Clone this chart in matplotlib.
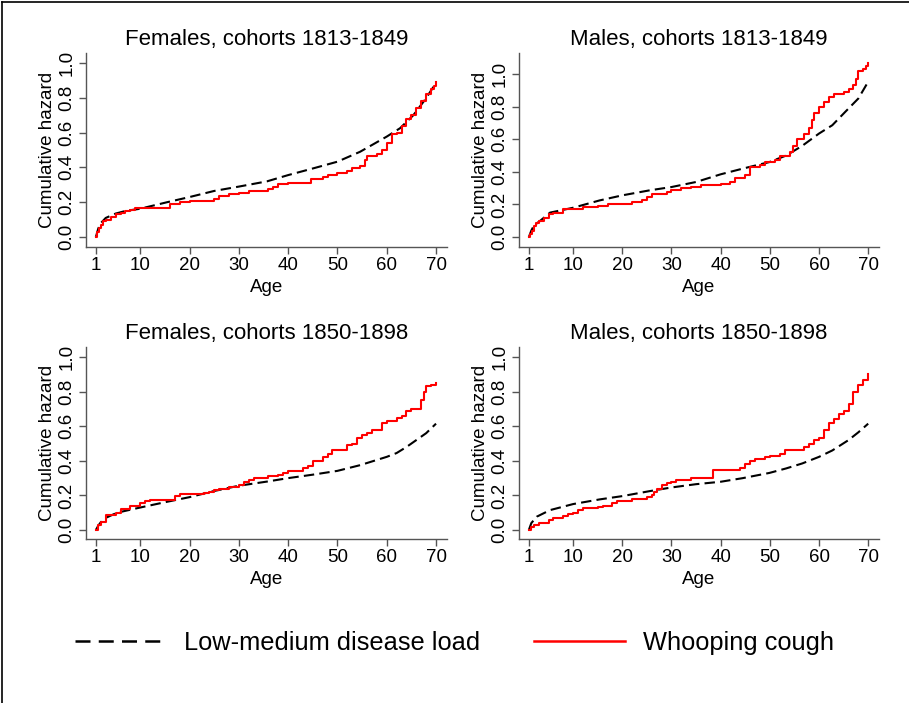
import matplotlib
matplotlib.use("Agg")
import matplotlib.pyplot as plt
from matplotlib.lines import Line2D

plt.rcParams["font.family"] = ["Liberation Sans", "DejaVu Sans"]

# Females, cohorts 1813-1849
f1_low_age = [1, 1.5, 2, 3, 5, 7, 10, 15.4, 20, 25, 30, 35.7, 40, 45, 50, 54.6, 60, 62.7, 65.4, 67.8, 70]
f1_low_val = [0, 0.05, 0.08, 0.11, 0.135, 0.15, 0.163, 0.2, 0.23, 0.265, 0.29, 0.32, 0.356, 0.394, 0.433, 0.49, 0.577, 0.625, 0.70, 0.79, 0.885]
f1_wc_age = [1, 1.3, 1.6, 2, 2.5, 3, 4, 5, 6, 7, 8, 9, 16, 18, 20, 23, 25, 26, 28, 30, 32, 36, 37, 38, 40, 44.7,
             47, 48, 50, 52, 53, 54.5, 55.5, 56, 58, 59, 60, 61, 62, 63, 64, 65, 66, 67, 68, 69, 69.6, 70]
f1_wc_val = [0, 0.03, 0.05, 0.07, 0.09, 0.10, 0.115, 0.13, 0.14, 0.15, 0.155, 0.165, 0.19, 0.20, 0.205, 0.21, 0.22,
             0.235, 0.245, 0.255, 0.265, 0.275, 0.29, 0.305, 0.31, 0.335, 0.345, 0.355, 0.37, 0.38, 0.395, 0.41,
             0.44, 0.465, 0.475, 0.50, 0.54, 0.59, 0.60, 0.64, 0.68, 0.70, 0.74, 0.78, 0.82, 0.85, 0.87, 0.89]

# Males, cohorts 1813-1849
m1_low_age = [1, 1.5, 2, 3.3, 5.3, 10, 15.4, 20, 25.6, 30, 35, 40, 44.5, 49.9, 53.3, 56.6, 60, 62.7, 65.4, 68, 70]
m1_low_val = [0, 0.04, 0.07, 0.10, 0.15, 0.18, 0.225, 0.256, 0.287, 0.307, 0.338, 0.385, 0.42, 0.46, 0.50, 0.56, 0.635, 0.686, 0.77, 0.85, 0.953]
m1_wc_age = [1, 1.3, 1.6, 2, 2.5, 3, 4, 5, 6, 7, 8, 12, 15, 17, 21, 22, 24, 25, 26, 29, 30, 32, 34, 36, 40, 42, 43,
             45, 46, 48, 49, 51, 52, 54, 54.8, 55.5, 57, 58, 58.6, 59, 60, 61, 62, 63, 65, 66, 67, 67.5, 68, 69, 69.6, 70]
m1_wc_val = [0, 0.02, 0.04, 0.07, 0.085, 0.10, 0.12, 0.14, 0.145, 0.15, 0.17, 0.185, 0.19, 0.20, 0.205, 0.215, 0.225,
             0.245, 0.265, 0.275, 0.29, 0.30, 0.31, 0.32, 0.325, 0.34, 0.36, 0.38, 0.43, 0.44, 0.46, 0.47, 0.50, 0.52,
             0.56, 0.60, 0.63, 0.67, 0.72, 0.76, 0.80, 0.83, 0.86, 0.88, 0.89, 0.91, 0.93, 0.97, 1.02, 1.03, 1.05, 1.07]

# Females, cohorts 1850-1898
f2_low_age = [1, 1.5, 2, 3, 5.3, 10, 15.4, 20, 24.9, 30, 35.7, 40, 45, 50, 54.6, 60, 62, 64, 66, 68, 70]
f2_low_val = [0, 0.025, 0.045, 0.07, 0.10, 0.13, 0.163, 0.19, 0.225, 0.256, 0.28, 0.30, 0.32, 0.342, 0.375, 0.423, 0.445, 0.48, 0.52, 0.56, 0.615]
f2_wc_age = [1, 1.5, 2, 3, 5, 6, 8, 10, 11, 12, 17, 18, 23, 24, 25, 26, 28, 30, 31, 32, 33, 36, 38, 39, 40, 43, 44,
             45, 47, 48, 49, 52, 53, 54, 55, 56, 57, 59, 60, 62, 63, 64, 65, 67, 67.5, 68, 69, 70]
f2_wc_val = [0, 0.03, 0.045, 0.085, 0.10, 0.12, 0.14, 0.155, 0.165, 0.175, 0.195, 0.21, 0.215, 0.22, 0.23, 0.24,
             0.25, 0.26, 0.275, 0.29, 0.30, 0.31, 0.32, 0.33, 0.34, 0.36, 0.37, 0.40, 0.42, 0.44, 0.46, 0.49, 0.50,
             0.53, 0.55, 0.56, 0.58, 0.62, 0.63, 0.65, 0.66, 0.69, 0.70, 0.75, 0.80, 0.83, 0.84, 0.85]

# Males, cohorts 1850-1898
m2_low_age = [1, 1.5, 2.6, 5.3, 10, 15.4, 20, 25.6, 30, 35, 40, 44.5, 49.9, 53.3, 56.6, 60, 62.7, 66, 68, 70]
m2_low_val = [0, 0.04, 0.077, 0.115, 0.15, 0.177, 0.196, 0.225, 0.246, 0.265, 0.279, 0.30, 0.33, 0.356, 0.385, 0.423, 0.46, 0.52, 0.565, 0.615]
m2_wc_age = [1, 1.5, 2, 3, 5, 6, 8, 9, 10, 11, 12, 15, 16, 18, 19, 21, 22, 25, 26, 26.5, 27, 28, 29, 30, 31, 34,
             38.5, 44, 45, 46, 47, 49, 50, 52, 53, 54, 57, 58, 59, 60, 61, 62, 63, 64, 65, 66, 67, 68, 69, 70]
m2_wc_val = [0, 0.02, 0.03, 0.04, 0.06, 0.07, 0.08, 0.09, 0.10, 0.115, 0.125, 0.135, 0.14, 0.155, 0.165, 0.165,
             0.18, 0.19, 0.20, 0.22, 0.24, 0.26, 0.27, 0.28, 0.29, 0.30, 0.345, 0.36, 0.38, 0.40, 0.41, 0.425, 0.43,
             0.44, 0.46, 0.46, 0.48, 0.50, 0.52, 0.53, 0.58, 0.62, 0.64, 0.67, 0.69, 0.73, 0.80, 0.84, 0.87, 0.90]

titles = ["Females, cohorts 1813-1849", "Males, cohorts 1813-1849",
          "Females, cohorts 1850-1898", "Males, cohorts 1850-1898"]
x_ticks = [1, 10, 20, 30, 40, 50, 60, 70]
y_ticks = [0.0, 0.2, 0.4, 0.6, 0.8, 1.0]

panels = [
    (f1_low_age, f1_low_val, f1_wc_age, f1_wc_val),
    (m1_low_age, m1_low_val, m1_wc_age, m1_wc_val),
    (f2_low_age, f2_low_val, f2_wc_age, f2_wc_val),
    (m2_low_age, m2_low_val, m2_wc_age, m2_wc_val),
]

fig = plt.figure(figsize=(9.09, 7.03), dpi=100)

# axes boxes [left, bottom, width, height]
boxes = [
    [0.0946, 0.6486, 0.397, 0.276],
    [0.571, 0.6486, 0.396, 0.276],
    [0.0946, 0.2333, 0.397, 0.273],
    [0.571, 0.2333, 0.396, 0.273],
]
ylims = [(-0.057, 1.057), (-0.061, 1.129), (-0.052, 1.058), (-0.052, 1.058)]

grey = "#555555"
for i, (la, lv, wa, wv) in enumerate(panels):
    ax = fig.add_axes(boxes[i])
    ax.plot(la, lv, color="black", lw=1.5, dashes=(5, 2.5))
    ax.plot(wa, wv, color="red", lw=1.5, drawstyle="steps-post")
    ax.set_xlim(-1.0, 72.2)
    ax.set_ylim(*ylims[i])
    ax.set_xticks(x_ticks)
    ax.set_yticks(y_ticks)
    ax.set_yticklabels(["%.1f" % v for v in y_ticks], rotation=90, va="center")
    ax.spines["top"].set_visible(False)
    ax.spines["right"].set_visible(False)
    for s in ("left", "bottom"):
        ax.spines[s].set_color(grey)
        ax.spines[s].set_linewidth(1.0)
    ax.tick_params(colors=grey, labelcolor="black", labelsize=13.5, length=5, width=1.0, pad=2.5)
    ax.set_xlabel("Age", fontsize=13.5, labelpad=3)
    ax.set_ylabel("Cumulative hazard", fontsize=13.5, labelpad=2)
    ax.set_title(titles[i], fontsize=16, pad=6)

# legend
handles = [Line2D([], [], color="black", lw=1.8, dashes=(6, 3.3)),
           Line2D([], [], color="red", lw=1.8)]
fig.legend(handles, ["Low-medium disease load", "Whooping cough"], loc="center",
           bbox_to_anchor=(0.5, 0.085), ncol=2, frameon=False, fontsize=18.3,
           handlelength=3.6, columnspacing=2.1, handletextpad=0.7)

# partial frame on left and top
fig.add_artist(Line2D([0.0025, 0.0025], [0, 0.997], color="black", lw=1.2, transform=fig.transFigure))
fig.add_artist(Line2D([0.0025, 1.0], [0.997, 0.997], color="black", lw=1.2, transform=fig.transFigure))

fig.savefig("out.png", dpi=100)
